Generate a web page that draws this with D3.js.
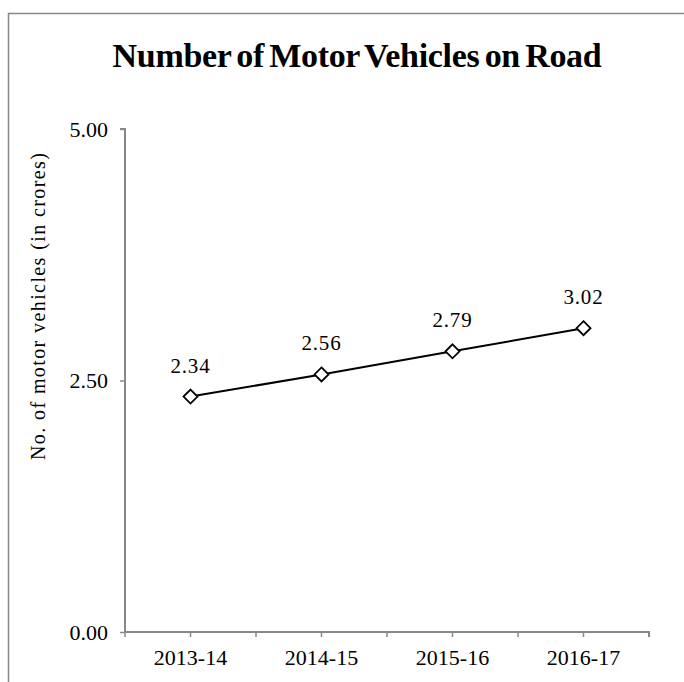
<!DOCTYPE html>
<html><head><meta charset="utf-8">
<script src="https://cdn.jsdelivr.net/npm/d3@7"></script>
<style>body{margin:0;background:#fff}text{font-family:"Liberation Serif","Times New Roman",serif;fill:#000}</style>
</head><body>
<script>
(function(){
const categories = ["2013-14","2014-15","2015-16","2016-17"];
const values = [2.34, 2.56, 2.79, 3.02];
const yTicks = [0, 2.5, 5];
const title = "Number of Motor Vehicles on Road";
const yTitle = "No. of motor vehicles (in crores)";

const W = 684, H = 682;
const svg = d3.select("body").append("svg").attr("width", W).attr("height", H);
svg.append("rect").attr("x", 8.5).attr("y", 13.5).attr("width", 700).attr("height", 720)
  .attr("fill", "none").attr("stroke", "#888").attr("stroke-width", 1.5);

const pl = 125, pr = 649, pt = 129, pb = 632;
const x = d3.scaleBand().domain(categories).range([pl, pr]);
const y = d3.scaleLinear().domain([0, 5]).range([pb, pt]);

svg.append("text").attr("x", 357).attr("y", 67).attr("text-anchor", "middle")
  .attr("font-size", 34).attr("font-weight", "bold").attr("word-spacing", -3).attr("letter-spacing", -0.3).text(title);

const axisColor = "#888";
const ya = svg.append("g").attr("transform", `translate(${pl},0)`)
  .call(d3.axisLeft(y).tickValues(yTicks).tickFormat(d3.format(".2f")).tickSize(5).tickPadding(12));
const xa = svg.append("g").attr("transform", `translate(0,${pb})`)
  .call(d3.axisBottom(x).tickSize(0).tickPadding(17));
[ya, xa].forEach(g => {
  g.select(".domain").attr("stroke", axisColor).attr("stroke-width", 2);
  g.selectAll(".tick line").attr("stroke", axisColor).attr("stroke-width", 1.5);
  g.selectAll("text").attr("font-size", 22).attr("font-family", '"Liberation Serif",serif').attr("fill", "#000");
});
ya.select(".domain").attr("d", `M-5,${pt}H0V${pb}`);
xa.select(".domain").attr("d", `M${pl},0H${pr}V5`);
const tickPos = [];
categories.forEach(c => { tickPos.push(x(c)); tickPos.push(x(c) + x.bandwidth()/2); });
xa.selectAll(".extra").data(tickPos).enter().append("line").attr("class", "extra")
  .attr("x1", d => d).attr("x2", d => d).attr("y1", 0).attr("y2", 5)
  .attr("stroke", axisColor).attr("stroke-width", 1.5);

svg.append("text").attr("transform", `translate(45,460) rotate(-90)`)
  .attr("text-anchor", "start").attr("font-size", 20).attr("letter-spacing", 1.4).text(yTitle);

const cx = d => x(d) + x.bandwidth()/2;
const line = d3.line().x((d,i) => cx(categories[i])).y(d => y(d));
svg.append("path").datum(values).attr("d", line).attr("fill", "none").attr("stroke", "#000").attr("stroke-width", 2);
svg.selectAll(".mk").data(values).enter().append("path").attr("class","mk")
  .attr("d", "M0,-7L7,0L0,7L-7,0Z")
  .attr("transform", (d,i) => `translate(${cx(categories[i])},${y(d)})`)
  .attr("fill", "#fff").attr("stroke", "#000").attr("stroke-width", 1.8);
svg.selectAll(".lbl").data(values).enter().append("text").attr("class","lbl")
  .attr("x", (d,i) => cx(categories[i])).attr("y", d => y(d) - 24)
  .attr("text-anchor", "middle").attr("font-size", 21).attr("letter-spacing", 0.8).text(d => d.toFixed(2));
})();
</script>
</body></html>
